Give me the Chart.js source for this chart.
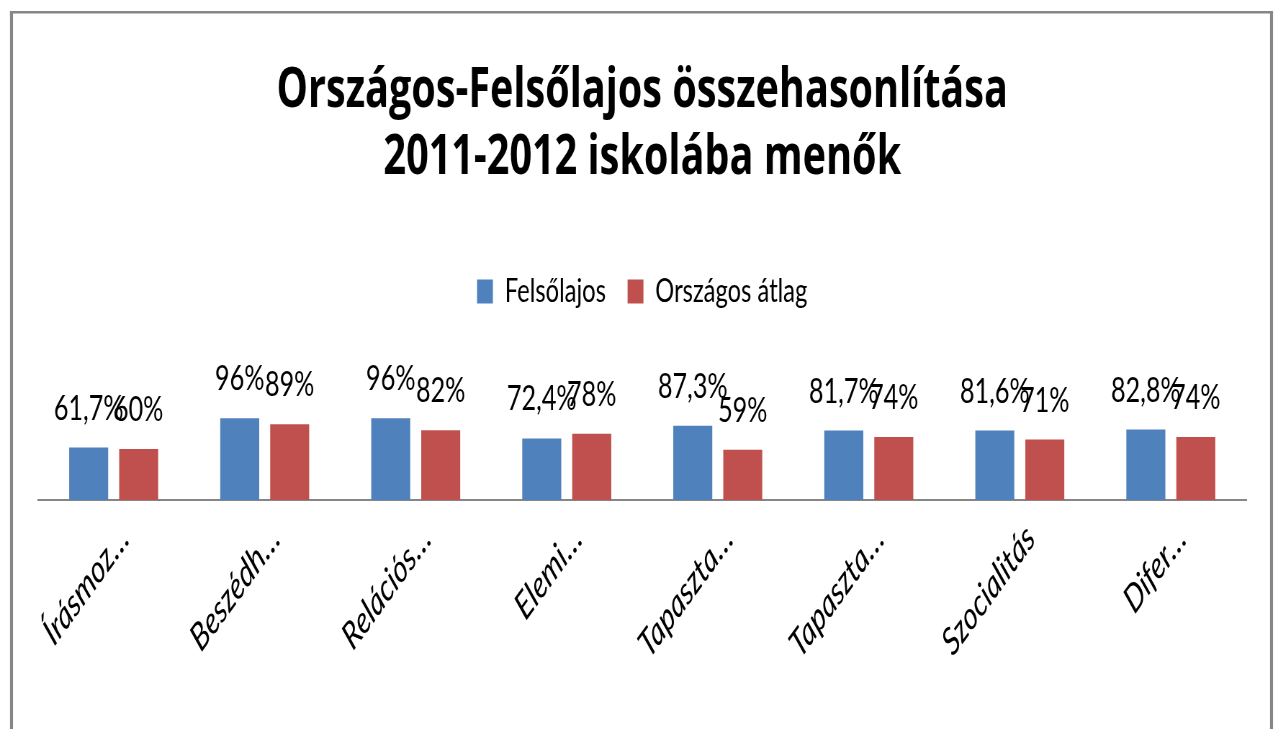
<!DOCTYPE html>
<html>
<head>
<meta charset="utf-8">
<script src="https://cdn.jsdelivr.net/npm/chart.js@4.4.1/dist/chart.umd.min.js"></script>
<style>
  html, body { margin: 0; padding: 0; background: #fff; overflow: hidden; }
  /* the original picture is squeezed sideways, so the chart is drawn wide and then narrowed */
  #wrap { width: 1772px; height: 729px; transform: scaleX(0.72); transform-origin: 0 0; }
</style>
</head>
<body>
<div id="wrap"><canvas id="chart"></canvas></div>
<script>
const SQUEEZE = 0.72;

const categories = ['Írásmoz…', 'Beszédh…', 'Relációs…', 'Elemi…', 'Tapaszta…', 'Tapaszta…', 'Szocialitás', 'Difer…'];
const felsolajos = [61.7, 96, 96, 72.4, 87.3, 81.7, 81.6, 82.8];
const orszagosAtlag = [60, 89, 82, 78, 59, 74, 71, 74];
const seriesNames = ['Felsőlajos', 'Országos átlag'];
const titleLines = ['Országos-Felsőlajos összehasonlítása', '2011-2012 iskolába menők'];

const FONT = 'Lato, "Liberation Sans", sans-serif';
const TITLE_FONT = '"Open Sans", Lato, sans-serif';

// grey frame round the chart
const frame = {
  id: 'frame',
  beforeDraw(chart) {
    const { ctx, width, height } = chart;
    ctx.save();
    ctx.fillStyle = '#fff';
    ctx.fillRect(0, 0, width, height);
    ctx.fillStyle = '#868686';
    const v = 3 / SQUEEZE;
    ctx.fillRect(10 / SQUEEZE, 11, 1263 / SQUEEZE, 2.5);
    ctx.fillRect(10 / SQUEEZE, 11, v, height);
    ctx.fillRect(1270 / SQUEEZE, 11, v, height);
    ctx.restore();
  }
};

// percentage labels above the bars, with decimal comma
const valueLabels = {
  id: 'valueLabels',
  afterDatasetsDraw(chart) {
    const { ctx } = chart;
    ctx.save();
    ctx.font = '35px ' + FONT;
    ctx.fillStyle = '#000';
    ctx.textAlign = 'center';
    ctx.textBaseline = 'alphabetic';
    chart.data.datasets.forEach((ds, i) => {
      chart.getDatasetMeta(i).data.forEach((bar, j) => {
        ctx.fillText(String(ds.data[j]).replace('.', ',') + '%', bar.x, bar.y - 28);
      });
    });
    ctx.restore();
  }
};

new Chart(document.getElementById('chart'), {
  type: 'bar',
  data: {
    labels: categories,
    datasets: [
      { label: seriesNames[0], data: felsolajos, backgroundColor: '#4F81BD' },
      { label: seriesNames[1], data: orszagosAtlag, backgroundColor: '#C0504D' }
    ]
  },
  options: {
    responsive: true,
    maintainAspectRatio: false,
    animation: false,
    categoryPercentage: 0.662,
    barPercentage: 0.78,
    layout: { padding: { left: 53, right: 41, top: 0, bottom: 0 } },
    plugins: {
      title: {
        display: true,
        text: titleLines,
        color: '#000',
        font: { family: TITLE_FONT, size: 55, weight: 'bold', lineHeight: 67 / 55 },
        padding: { top: 58, bottom: 53 }
      },
      legend: {
        position: 'top',
        labels: {
          color: '#000',
          font: { family: FONT, size: 33 },
          boxWidth: 22,
          boxHeight: 24,
          padding: 30
        }
      },
      tooltip: { enabled: false }
    },
    scales: {
      x: {
        grid: { display: false },
        border: { display: true, color: '#868686', width: 2 },
        ticks: {
          color: '#000',
          font: { family: FONT, size: 38, style: 'italic' },
          minRotation: 45,
          maxRotation: 45,
          autoSkip: false,
          padding: 8,
          labelOffset: 15
        },
        afterFit(scale) { scale.height = 229; }
      },
      y: { display: false, min: 0, max: 214 }
    }
  },
  plugins: [frame, valueLabels]
});
</script>
</body>
</html>
